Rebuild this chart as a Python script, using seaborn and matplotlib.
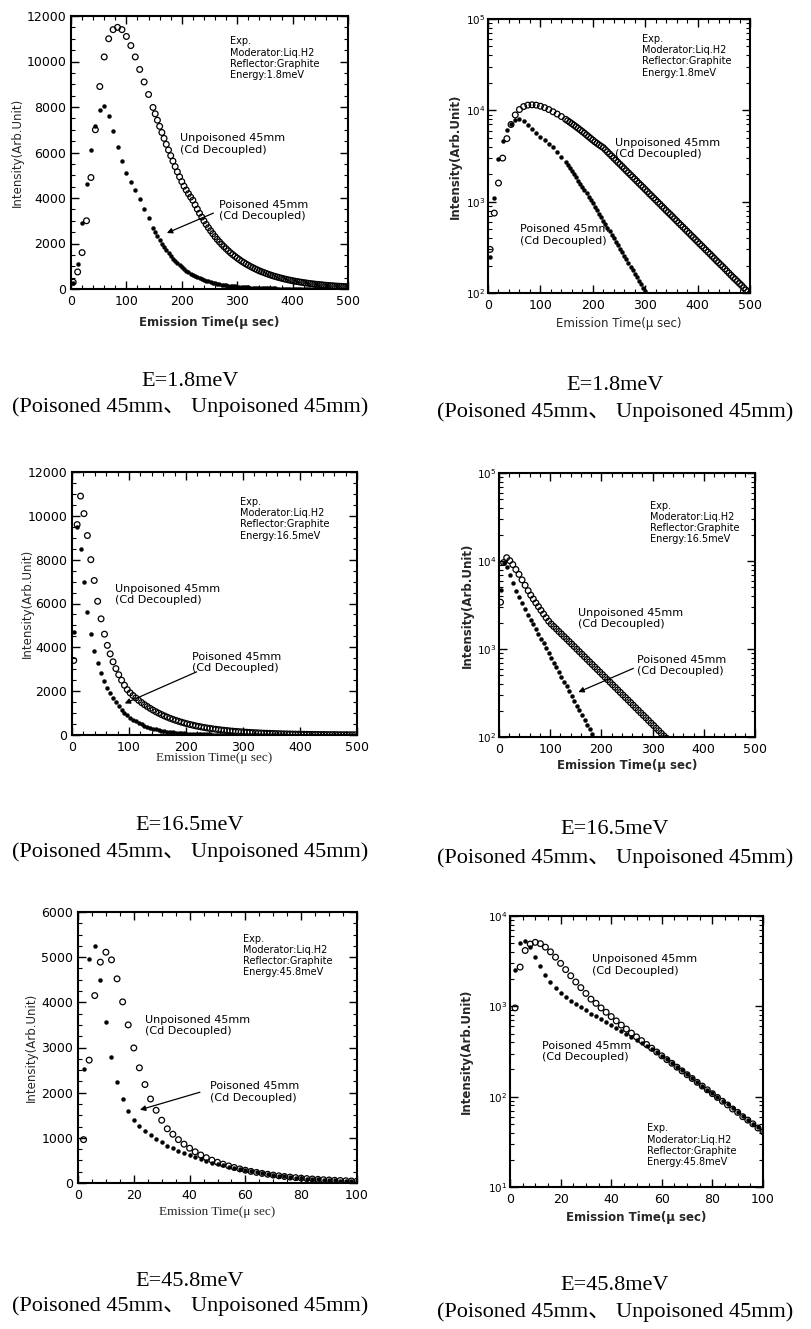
import matplotlib
matplotlib.use("Agg")
import matplotlib.pyplot as plt
from matplotlib.ticker import MultipleLocator, LogLocator, NullFormatter
import seaborn as sns

# ---------------------------------------------------------------
# Pulse shapes, liquid-H2 moderator with graphite reflector
# ---------------------------------------------------------------

# E = 1.8 meV  (8 us channels up to 148 us, 4 us channels after)
time_18 = [4, 12, 20, 28, 36, 44, 52, 60, 68, 76, 84, 92, 100, 108, 116, 124,
           132, 140, 148,
           152, 156, 160, 164, 168, 172, 176, 180, 184, 188, 192, 196, 200, 204,
           208, 212, 216, 220, 224, 228, 232, 236, 240, 244, 248, 252, 256, 260,
           264, 268, 272, 276, 280, 284, 288, 292, 296, 300, 304, 308, 312, 316,
           320, 324, 328, 332, 336, 340, 344, 348, 352, 356, 360, 364, 368, 372,
           376, 380, 384, 388, 392, 396, 400, 404, 408, 412, 416, 420, 424, 428,
           432, 436, 440, 444, 448, 452, 456, 460, 464, 468, 472, 476, 480, 484,
           488, 492, 496, 500]
unpoisoned_18 = [300, 750, 1600, 3000, 4900, 7000, 8900, 10200, 11000, 11400,
                 11500, 11400, 11100, 10700, 10200, 9650, 9100, 8550, 7980,
                 7700, 7420, 7150, 6880, 6620, 6360, 6110, 5860, 5620, 5380, 5150,
                 4930, 4720, 4520, 4350, 4190, 4040, 3900, 3700, 3510, 3330, 3160,
                 2995, 2840, 2695, 2560, 2430, 2300, 2180, 2070, 1965, 1865, 1770,
                 1680, 1590, 1510, 1435, 1360, 1290, 1220, 1160, 1100, 1045, 990,
                 940, 890, 845, 800, 760, 723, 686, 650, 617, 585, 555, 527, 500,
                 474, 450, 426, 405, 384, 364, 345, 328, 311, 295, 280, 266, 252,
                 239, 226, 215, 204, 194, 184, 174, 165, 156, 148, 141, 134, 127,
                 121, 114, 108, 103, 98]
poisoned_18 = [250, 1100, 2900, 4600, 6100, 7150, 7850, 8050, 7600, 6950, 6250,
               5620, 5120, 4700, 4330, 3950, 3520, 3100, 2700,
               2510, 2330, 2155, 1990, 1840, 1700, 1570, 1450, 1335, 1230, 1130,
               1040, 955, 880, 805, 740, 678, 620, 568, 520, 476, 435, 398, 365,
               334, 305, 279, 255, 233, 213, 195, 178, 163, 149, 136, 124, 114,
               104, 95, 87, 80, 73, 67, 61, 56, 51, 47, 43, 39, 36, 33, 30, 27,
               25, 23, 21, 19, 18, 16, 15, 14, 13, 12, 11, 10, 9, 8, 8, 7, 7, 6,
               6, 5, 5]

# E = 16.5 meV  (6 us channels up to 57 us, 5 us channels after)
time_165 = [3, 9, 15, 21, 27, 33, 39, 45, 51, 57,
            62, 67, 72, 77, 82, 87, 92, 97, 102, 107, 112, 117, 122, 127, 132,
            137, 142, 147, 152, 157, 162, 167, 172, 177, 182, 187, 192, 197, 202,
            207, 212, 217, 222, 227, 232, 237, 242, 247, 252, 257, 262, 267, 272,
            277, 282, 287, 292, 297, 302, 307, 312, 317, 322, 327, 332, 337, 342,
            347, 352, 357, 362, 367, 372, 377, 382, 387, 392, 397, 402, 407, 412,
            417, 422, 427, 432, 437, 442, 447, 452, 457, 462, 467, 472, 477, 482,
            487, 492, 497]
unpoisoned_165 = [3400, 9600, 10900, 10100, 9100, 8000, 7050, 6100, 5300, 4600,
                  4090, 3700, 3340, 3030, 2750, 2500, 2270, 2070, 1920, 1800,
                  1690, 1580, 1480, 1385, 1300, 1216, 1138, 1065, 996, 932,
                  872, 816, 763, 714, 668, 625, 585, 547, 512, 479,
                  448, 419, 392, 367, 343, 321, 300, 281, 263, 246,
                  230, 215, 201, 188, 176, 165, 154, 144, 135, 126,
                  118, 110, 103, 97, 90, 84, 79, 74, 69, 65,
                  60, 56, 53, 49, 46, 43, 40, 38, 35, 33,
                  31, 29, 27, 25, 24, 22, 21, 19, 18, 17,
                  16, 15, 14, 13, 12, 11, 11, 10]
poisoned_165 = [4700, 9500, 8500, 7000, 5600, 4600, 3850, 3300, 2850, 2450,
                2160, 1905, 1680, 1485, 1310, 1155, 1020, 900, 795, 700,
                620, 545, 482, 425, 375, 331, 292, 258, 228, 201,
                177, 157, 138, 122, 108, 95, 84, 74, 65, 58,
                51, 45, 40, 35, 31, 27, 24, 21, 19, 16,
                14, 13, 11, 10, 9, 8, 7, 6, 5, 5,
                4, 4, 3, 3, 3, 2, 2, 2, 2, 2, 1, 1, 1]

# E = 45.8 meV  (2 us channels)
time_458 = [2, 4, 6, 8, 10, 12, 14, 16, 18, 20, 22, 24, 26, 28, 30, 32, 34, 36,
            38, 40, 42, 44, 46, 48, 50, 52, 54, 56, 58, 60, 62, 64, 66, 68, 70,
            72, 74, 76, 78, 80, 82, 84, 86, 88, 90, 92, 94, 96, 98, 100]
unpoisoned_458 = [960, 2720, 4150, 4890, 5110, 4940, 4520, 4010, 3500, 2990, 2550,
                  2180, 1860, 1610, 1390, 1200, 1080, 960, 860, 770, 690, 620, 560,
                  505, 459, 417, 378, 344, 312, 283, 257, 234, 212, 193, 175, 159,
                  144, 131, 119, 108, 98, 89, 81, 73, 67, 60, 55, 50, 45, 41]
poisoned_458 = [2530, 4970, 5250, 4490, 3560, 2790, 2240, 1850, 1590, 1400, 1260,
                1150, 1060, 975, 900, 830, 775, 717, 665, 615, 570, 527, 488, 452,
                420, 390, 360, 334, 309, 285, 260, 236, 215, 195, 177, 160, 146,
                132, 120, 109, 99, 90, 82, 74, 67, 61, 55, 50, 46, 42]

energies = ["1.8", "16.5", "45.8"]
caption_sub = "(Poisoned 45mm\u3001 Unpoisoned 45mm)"
unpoisoned_label = "Unpoisoned 45mm\n(Cd Decoupled)"
poisoned_label = "Poisoned 45mm\n(Cd Decoupled)"
x_label = "Emission Time(\u03bc sec)"
y_label = "Intensity(Arb.Unit)"

# ---------------------------------------------------------------
sns.set_theme(style="ticks")
plt.rcParams["font.family"] = ["DejaVu Sans"]
plt.rcParams["mathtext.fontset"] = "dejavuserif"

W, H = 811, 1329
fig = plt.figure(figsize=(W / 100, H / 100), dpi=100)
fig.patch.set_facecolor("white")


def add_axes_px(left, top, right, bottom):
    return fig.add_axes([left / W, 1 - bottom / H, (right - left) / W, (bottom - top) / H])


def info_text(energy):
    return "Exp.\nModerator:Liq.H2\nReflector:Graphite\nEnergy:%smeV" % energy


def style_axes(ax, box_px, ylab_off, xlab_off, xbold=True, ybold=False,
               serif_x=False, labelsize=9, ylabelsize=None):
    left, top, right, bottom = box_px
    w, h = right - left, bottom - top
    for sp in ax.spines.values():
        sp.set_visible(True)
        sp.set_linewidth(1.5)
        sp.set_color("black")
    ax.set_facecolor("white")
    ax.tick_params(which="both", direction="in", top=True, right=True,
                   colors="black", labelsize=labelsize)
    if ylabelsize is not None:
        ax.tick_params(axis="y", labelsize=ylabelsize, pad=2)
    ax.tick_params(which="major", length=6, width=1.0)
    ax.tick_params(axis="x", which="major", pad=4)
    ax.tick_params(which="minor", length=3, width=0.8)
    ax.set_ylabel(y_label, fontsize=8.5, fontweight="bold" if ybold else "normal")
    xfam = ["Liberation Serif"] if serif_x else ["DejaVu Sans"]
    ax.set_xlabel(x_label, fontsize=9.5 if serif_x else 8.5, family=xfam,
                  fontweight="bold" if xbold else "normal")
    ax.yaxis.set_label_coords(-ylab_off / w, 0.5)
    ax.xaxis.set_label_coords(0.5, -xlab_off / h)


def draw_series(ax, t_u, u, t_p, p):
    sns.scatterplot(x=t_u[:len(u)], y=u, ax=ax, marker="o", s=17, facecolor="none",
                    edgecolor="black", linewidth=0.9, legend=False, zorder=3)
    sns.scatterplot(x=t_p[:len(p)], y=p, ax=ax, marker="o", s=8, color="black",
                    edgecolor="black", linewidth=0.3, legend=False, zorder=3)


def linear_panel(box, t, u, p, xmax, xmaj, xmin, ymax, ymaj, ymin):
    ax = add_axes_px(*box)
    draw_series(ax, t, u, t, p)
    ax.set_xlim(0, xmax)
    ax.set_ylim(0, ymax)
    ax.xaxis.set_major_locator(MultipleLocator(xmaj))
    ax.xaxis.set_minor_locator(MultipleLocator(xmin))
    ax.yaxis.set_major_locator(MultipleLocator(ymaj))
    ax.yaxis.set_minor_locator(MultipleLocator(ymin))
    return ax


def log_panel(box, t, u, p, xmax, xmaj, xmin, ylo, yhi):
    ax = add_axes_px(*box)
    draw_series(ax, t, u, t, p)
    ax.set_yscale("log")
    ax.set_xlim(0, xmax)
    ax.set_ylim(ylo, yhi)
    ax.xaxis.set_major_locator(MultipleLocator(xmaj))
    ax.xaxis.set_minor_locator(MultipleLocator(xmin))
    ax.yaxis.set_major_locator(LogLocator(base=10, numticks=10))
    ax.yaxis.set_minor_locator(LogLocator(base=10, subs=range(2, 10), numticks=20))
    ax.yaxis.set_minor_formatter(NullFormatter())
    return ax


def put(ax, x, y, s, size=8):
    ax.text(x, y, s, transform=ax.transAxes, ha="left", va="top",
            fontsize=size, linespacing=1.15, color="black")


def arrow(ax, tail, head):
    ax.annotate("", xy=head, xytext=tail, xycoords="axes fraction",
                textcoords="axes fraction",
                arrowprops=dict(arrowstyle="-|>", color="black", lw=0.9,
                                mutation_scale=8, shrinkA=0, shrinkB=0))


# ---- row 1 : 1.8 meV ----
b1 = (71, 16, 348, 289)
ax1 = linear_panel(b1, time_18, unpoisoned_18, poisoned_18, 500, 100, 20, 12000, 2000, 500)
style_axes(ax1, b1, 47, 27)
put(ax1, 0.575, 0.925, info_text(energies[0]), 7)
put(ax1, 0.394, 0.57, unpoisoned_label)
put(ax1, 0.533, 0.325, poisoned_label)
arrow(ax1, (0.514, 0.278), (0.346, 0.205))

b2 = (488, 19, 750, 293)
ax2 = log_panel(b2, time_18, unpoisoned_18, poisoned_18, 500, 100, 20, 1e2, 1e5)
style_axes(ax2, b2, 26, 24, xbold=False, ybold=True, ylabelsize=7.5)
put(ax2, 0.586, 0.945, info_text(energies[0]), 7)
put(ax2, 0.484, 0.565, unpoisoned_label)
put(ax2, 0.121, 0.25, poisoned_label)

# ---- row 2 : 16.5 meV ----
b3 = (72, 472, 357, 735)
ax3 = linear_panel(b3, time_165, unpoisoned_165, poisoned_165, 500, 100, 20, 12000, 2000, 500)
style_axes(ax3, b3, 38, 17, xbold=False, serif_x=True)
put(ax3, 0.59, 0.905, info_text(energies[1]), 7)
put(ax3, 0.15, 0.575, unpoisoned_label)
put(ax3, 0.42, 0.315, poisoned_label)
arrow(ax3, (0.437, 0.24), (0.185, 0.12))

b4 = (499, 473, 755, 737)
ax4 = log_panel(b4, time_165, unpoisoned_165, poisoned_165, 500, 100, 20, 1e2, 1e5)
style_axes(ax4, b4, 25, 22, ybold=True, ylabelsize=7.5)
put(ax4, 0.59, 0.895, info_text(energies[1]), 7)
put(ax4, 0.31, 0.49, unpoisoned_label)
put(ax4, 0.538, 0.31, poisoned_label)
arrow(ax4, (0.525, 0.26), (0.31, 0.17))

# ---- row 3 : 45.8 meV ----
b5 = (78, 912, 357, 1183)
ax5 = linear_panel(b5, time_458, unpoisoned_458, poisoned_458, 100, 20, 5, 6000, 1000, 250)
style_axes(ax5, b5, 40, 23, xbold=False, serif_x=True)
put(ax5, 0.593, 0.92, info_text(energies[2]), 7)
put(ax5, 0.24, 0.62, unpoisoned_label)
put(ax5, 0.473, 0.375, poisoned_label)
arrow(ax5, (0.437, 0.335), (0.222, 0.27))

b6 = (510, 916, 763, 1187)
ax6 = log_panel(b6, time_458, unpoisoned_458, poisoned_458, 100, 20, 5, 1e1, 1e4)
style_axes(ax6, b6, 37, 24, ybold=True, ylabelsize=7.5)
put(ax6, 0.326, 0.858, unpoisoned_label)
put(ax6, 0.125, 0.54, poisoned_label)
put(ax6, 0.54, 0.235, info_text(energies[2]), 7)

# ---- captions under each panel ----
cap_family = ["Liberation Serif", "Noto Sans CJK JP"]
captions = [(190, 382, 407, energies[0]), (615, 385, 412, energies[0]),
            (190, 826, 852, energies[1]), (615, 830, 858, energies[1]),
            (190, 1281, 1306, energies[2]), (615, 1285, 1312, energies[2])]
for cx, y1, y2, e in captions:
    fig.text(cx / W, 1 - y1 / H, "E=%smeV" % e, ha="center", va="center",
             fontsize=16, family=cap_family, color="black")
    fig.text(cx / W, 1 - y2 / H, caption_sub, ha="center", va="center",
             fontsize=16, family=cap_family, color="black")

fig.savefig("out.png", dpi=100, facecolor="white")
